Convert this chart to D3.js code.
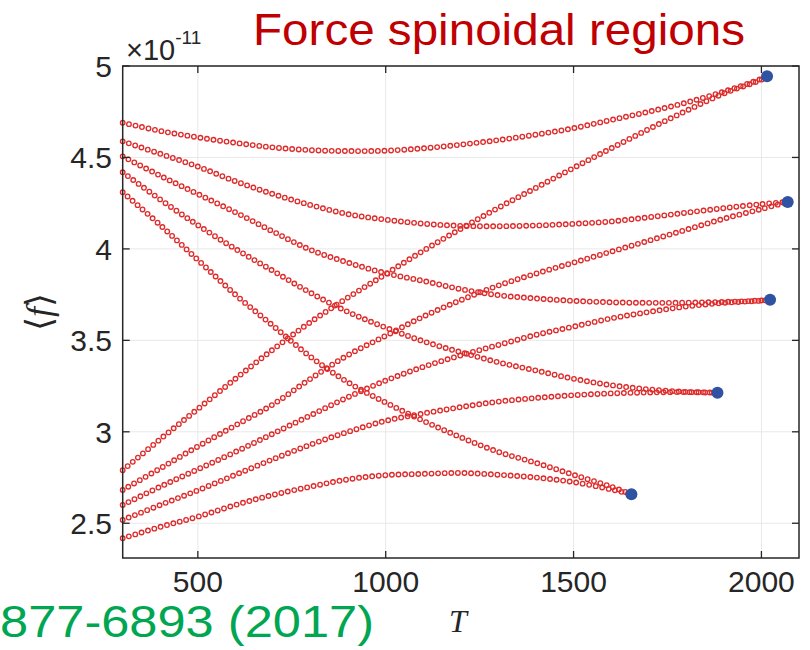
<!DOCTYPE html>
<html>
<head>
<meta charset="utf-8">
<script src="https://cdn.jsdelivr.net/npm/d3@7"></script>
<style>
  body { margin: 0; background: #fff; }
  svg { display: block; }
</style>
</head>
<body>
<div id="chart"></div>
<script>
var temps = [300, 400, 500, 600, 700, 800, 900, 1000, 1100, 1200, 1300, 1400, 1500, 1600, 1700, 1800, 1900, 2000];

// spinodal end points (blue dots), x1e-11
var endT = [2015, 2070, 2023, 1883, 1654];
var endF = [4.944, 4.257, 3.722, 3.214, 2.658];

// upper / lower branches for each spinodal, one value per entry of temps
var upperA = [4.69, 4.645, 4.61, 4.58, 4.555, 4.54, 4.535, 4.537, 4.55, 4.57, 4.595, 4.625, 4.66, 4.705, 4.75, 4.80, 4.86, 4.93];
var lowerA = [2.79, 2.96, 3.125, 3.29, 3.45, 3.60, 3.735, 3.862, 3.99, 4.11, 4.225, 4.334, 4.443, 4.55, 4.655, 4.755, 4.85, 4.925];
var upperB = [4.588, 4.52, 4.45, 4.37, 4.30, 4.24, 4.19, 4.16, 4.138, 4.126, 4.124, 4.128, 4.137, 4.15, 4.173, 4.198, 4.223, 4.245];
var lowerB = [2.682, 2.80, 2.92, 3.035, 3.15, 3.29, 3.42, 3.525, 3.63, 3.72, 3.80, 3.865, 3.925, 3.985, 4.045, 4.105, 4.165, 4.218];
var upperC = [4.506, 4.40, 4.30, 4.20, 4.095, 3.995, 3.925, 3.867, 3.825, 3.78, 3.747, 3.729, 3.716, 3.708, 3.705, 3.706, 3.71, 3.718];
var lowerC = [2.60, 2.70, 2.795, 2.89, 2.99, 3.09, 3.19, 3.28, 3.355, 3.418, 3.475, 3.53, 3.575, 3.62, 3.655, 3.685, 3.705, 3.717];
var upperD = [4.419, 4.27, 4.13, 4.00, 3.88, 3.76, 3.655, 3.57, 3.495, 3.435, 3.38, 3.335, 3.29, 3.255, 3.232, 3.218];
var lowerD = [2.518, 2.60, 2.68, 2.765, 2.85, 2.93, 3.00, 3.06, 3.10, 3.135, 3.165, 3.185, 3.20, 3.21, 3.215, 3.217];
var upperE = [4.31, 4.13, 3.94, 3.75, 3.58, 3.41, 3.27, 3.16, 3.06, 2.97, 2.89, 2.83, 2.765, 2.70];
var lowerE = [2.418, 2.48, 2.536, 2.60, 2.655, 2.70, 2.74, 2.763, 2.77, 2.775, 2.765, 2.75, 2.725, 2.685];

var xTicks = [500, 1000, 1500, 2000];
var yTicks = [2.5, 3, 3.5, 4, 4.5, 5];

var svgWidth = 810;
var svgHeight = 650;

var plot = { left: 122.7, right: 799, top: 66, bottom: 558 };

var svg = d3.select("#chart")
  .append("svg")
  .attr("width", svgWidth)
  .attr("height", svgHeight);

var xScale = d3.scaleLinear().domain([300, 2100]).range([plot.left, plot.right]);
var yScale = d3.scaleLinear().domain([2.31, 5]).range([plot.bottom, plot.top]);

// grid
var grid = svg.append("g");
grid.selectAll(".gx")
  .data(xTicks)
  .enter()
  .append("line")
  .attr("x1", d => xScale(d)).attr("x2", d => xScale(d))
  .attr("y1", plot.top).attr("y2", plot.bottom)
  .attr("stroke", "#e8e8e8").attr("stroke-width", 1);
grid.selectAll(".gy")
  .data(yTicks)
  .enter()
  .append("line")
  .attr("x1", plot.left).attr("x2", plot.right)
  .attr("y1", d => yScale(d)).attr("y2", d => yScale(d))
  .attr("stroke", "#e8e8e8").attr("stroke-width", 1);

// build the 10 branches, each ending at its spinodal point
var branches = [];
[[upperA, lowerA], [upperB, lowerB], [upperC, lowerC], [upperD, lowerD], [upperE, lowerE]].forEach(function (pair, i) {
  pair.forEach(function (vals) {
    var pts = vals.map((v, j) => [temps[j], v]);
    pts.push([endT[i], endF[i]]);
    branches.push(pts);
  });
});

var line = d3.line()
  .x(d => xScale(d[0]))
  .y(d => yScale(d[1]))
  .curve(d3.curveCatmullRom);

// open circle markers: round dots punched with a smaller dot through a mask
var gap = 6.6;
var defs = svg.append("defs");
branches.forEach(function (pts, i) {
  var m = defs.append("mask")
    .attr("id", "ring" + i)
    .attr("maskUnits", "userSpaceOnUse")
    .attr("x", 0).attr("y", 0).attr("width", svgWidth).attr("height", svgHeight);
  m.append("rect").attr("width", svgWidth).attr("height", svgHeight).attr("fill", "#fff");
  m.append("path")
    .attr("d", line(pts))
    .attr("fill", "none")
    .attr("stroke", "#000")
    .attr("stroke-width", 3.2)
    .attr("stroke-linecap", "round")
    .attr("stroke-dasharray", "0 " + gap);
});

var curves = svg.append("g");
branches.forEach(function (pts, i) {
  curves.append("path")
    .attr("d", line(pts))
    .attr("fill", "none")
    .attr("stroke", "#de2b2b")
    .attr("stroke-width", 5.9)
    .attr("stroke-linecap", "round")
    .attr("stroke-dasharray", "0 " + gap)
    .attr("mask", "url(#ring" + i + ")");
});

// spinodal points
svg.append("g").selectAll("circle")
  .data(endT)
  .enter()
  .append("circle")
  .attr("cx", d => xScale(d))
  .attr("cy", (d, i) => yScale(endF[i]))
  .attr("r", 6)
  .attr("fill", "#2f52a3");

// axes box with inward ticks on all sides
var axisColor = "#262626";
var tickLen = 7;
var frame = svg.append("g");
frame.append("rect")
  .attr("x", plot.left).attr("y", plot.top)
  .attr("width", plot.right - plot.left).attr("height", plot.bottom - plot.top)
  .attr("fill", "none").attr("stroke", axisColor).attr("stroke-width", 1.5);

xTicks.forEach(function (t) {
  frame.append("line").attr("x1", xScale(t)).attr("x2", xScale(t))
    .attr("y1", plot.bottom).attr("y2", plot.bottom - tickLen)
    .attr("stroke", axisColor).attr("stroke-width", 1.3);
  frame.append("line").attr("x1", xScale(t)).attr("x2", xScale(t))
    .attr("y1", plot.top).attr("y2", plot.top + tickLen)
    .attr("stroke", axisColor).attr("stroke-width", 1.3);
});
yTicks.forEach(function (t) {
  frame.append("line").attr("x1", plot.left).attr("x2", plot.left + tickLen)
    .attr("y1", yScale(t)).attr("y2", yScale(t))
    .attr("stroke", axisColor).attr("stroke-width", 1.3);
  frame.append("line").attr("x1", plot.right).attr("x2", plot.right - tickLen)
    .attr("y1", yScale(t)).attr("y2", yScale(t))
    .attr("stroke", axisColor).attr("stroke-width", 1.3);
});

// tick labels
svg.append("g").selectAll("text")
  .data(xTicks)
  .enter()
  .append("text")
  .attr("x", d => xScale(d))
  .attr("y", 592)
  .attr("text-anchor", "middle")
  .attr("font-family", "Liberation Sans, Arial, sans-serif")
  .attr("font-size", 30)
  .attr("fill", axisColor)
  .text(d => d);

svg.append("g").selectAll("text")
  .data(yTicks)
  .enter()
  .append("text")
  .attr("x", 112)
  .attr("y", d => yScale(d) + 11)
  .attr("text-anchor", "end")
  .attr("font-family", "Liberation Sans, Arial, sans-serif")
  .attr("font-size", 30)
  .attr("fill", axisColor)
  .text(d => d);

// exponent
var expo = svg.append("text")
  .attr("x", 126)
  .attr("y", 60)
  .attr("font-family", "Liberation Sans, Arial, sans-serif")
  .attr("fill", axisColor);
expo.append("tspan").attr("font-size", 29).text("\u00d710");
expo.append("tspan").attr("font-size", 19).attr("dy", -16).text("-11");

// axis labels
svg.append("text")
  .attr("x", 458)
  .attr("y", 632)
  .attr("text-anchor", "middle")
  .attr("font-family", "Liberation Serif, DejaVu Serif, serif")
  .attr("font-style", "italic")
  .attr("font-size", 32)
  .attr("fill", axisColor)
  .text("T");

var ylab = svg.append("text")
  .attr("transform", "translate(51, 312) rotate(-90)")
  .attr("text-anchor", "middle")
  .attr("font-family", "DejaVu Serif, serif")
  .attr("font-size", 36)
  .attr("fill", axisColor);
ylab.append("tspan").text("\u27e8");
ylab.append("tspan").attr("font-style", "italic").attr("font-family", "Liberation Serif, serif").text("f");
ylab.append("tspan").text("\u27e9");

// title
svg.append("text")
  .attr("x", 253)
  .attr("y", 45)
  .attr("font-family", "Liberation Sans, Arial, sans-serif")
  .attr("font-size", 44)
  .attr("textLength", 492)
  .attr("lengthAdjust", "spacingAndGlyphs")
  .attr("fill", "#c00000")
  .text("Force spinoidal regions");

// citation fragment at bottom left
svg.append("text")
  .attr("x", 0)
  .attr("y", 637)
  .attr("font-family", "Liberation Sans, Arial, sans-serif")
  .attr("font-size", 44)
  .attr("textLength", 374)
  .attr("lengthAdjust", "spacingAndGlyphs")
  .attr("fill", "#00a651")
  .text("877-6893 (2017)");
</script>
</body>
</html>
